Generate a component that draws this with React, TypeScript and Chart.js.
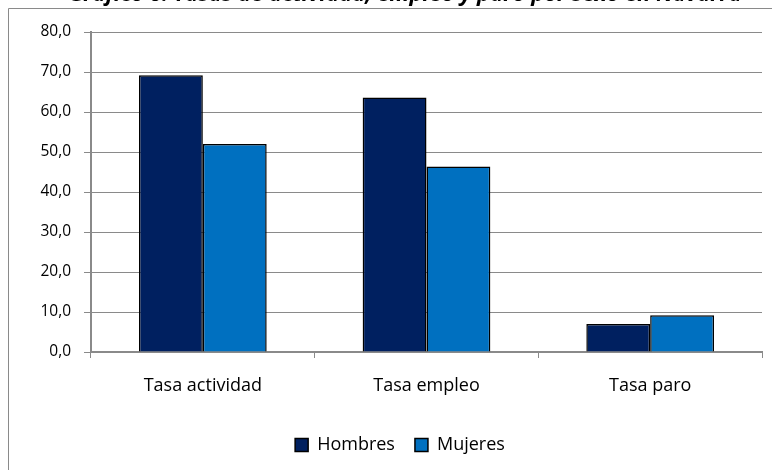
import React, { useEffect, useRef } from "react";
import { Chart, registerables } from "chart.js";

Chart.register(...registerables);

const categories = ["Tasa actividad", "Tasa empleo", "Tasa paro"];
const hombres = [69.2, 63.6, 7.0];
const mujeres = [52.0, 46.4, 9.2];
const seriesNames = ["Hombres", "Mujeres"];
const titleText = "Gráfico 6. Tasas de actividad, empleo y paro por sexo en Navarra";

const FONT = "'Open Sans', 'Noto Sans', sans-serif";

const framePlugin = {
  id: "frame",
  beforeDraw(chart: any) {
    const ctx = chart.ctx;
    ctx.save();
    ctx.fillStyle = "#ffffff";
    ctx.fillRect(0, 0, chart.width, chart.height);
    ctx.strokeStyle = "#8a8a8a";
    ctx.lineWidth = 1;
    ctx.beginPath();
    ctx.moveTo(8.5, chart.height + 2);
    ctx.lineTo(8.5, 8.5);
    ctx.lineTo(chart.width + 2, 8.5);
    ctx.stroke();
    ctx.fillStyle = "#000000";
    ctx.font = `italic bold 20px ${FONT}`;
    const w = ctx.measureText(titleText).width;
    const target = 686;
    const size = Math.max(10, Math.round((20 * target) / w));
    ctx.font = `italic bold ${size}px ${FONT}`;
    ctx.textAlign = "center";
    ctx.textBaseline = "alphabetic";
    ctx.fillText(titleText, 405, 1);
    ctx.restore();
  },
};

export default function App() {
  const ref = useRef<HTMLCanvasElement | null>(null);
  useEffect(() => {
    if (!ref.current) return;
    const chart = new Chart(ref.current, {
      type: "bar",
      data: {
        labels: categories,
        datasets: [
          {
            label: seriesNames[0],
            data: hombres,
            backgroundColor: "#002060",
            borderColor: "#000000",
            borderWidth: 1.5,
            categoryPercentage: 0.571,
            barPercentage: 1,
          },
          {
            label: seriesNames[1],
            data: mujeres,
            backgroundColor: "#0070C0",
            borderColor: "#000000",
            borderWidth: 1.5,
            categoryPercentage: 0.571,
            barPercentage: 1,
          },
        ],
      },
      options: {
        animation: false,
        responsive: false,
        maintainAspectRatio: false,
        layout: { padding: { top: 32, right: 10, left: 38, bottom: 6 } },
        plugins: {
          title: { display: false },
          tooltip: { enabled: false },
          legend: {
            position: "bottom",
            labels: {
              boxWidth: 13,
              boxHeight: 13,
              color: "#000000",
              font: { family: FONT, size: 18 },
              padding: 20,
            },
          },
        },
        scales: {
          x: {
            offset: true,
            grid: {
              display: true,
              offset: true,
              drawOnChartArea: false,
              drawTicks: true,
              tickLength: 6,
              color: "#8a8a8a",
            },
            border: { display: true, color: "#8a8a8a", width: 2 },
            ticks: {
              color: "#000000",
              font: { family: FONT, size: 18 },
              padding: 17,
            },
            afterFit(scale: any) {
              scale.height = 64;
            },
          },
          y: {
            min: 0,
            max: 80,
            ticks: {
              stepSize: 10,
              color: "#000000",
              font: { family: FONT, size: 15.5 },
              padding: 13,
              callback: (v: any) => Number(v).toFixed(1).replace(".", ","),
            },
            grid: {
              color: "#8a8a8a",
              lineWidth: 1,
              tickLength: 7,
            },
            border: { display: true, color: "#8a8a8a", width: 2 },
            afterFit(scale: any) {
              scale.width = 53;
            },
          },
        },
      },
      plugins: [framePlugin],
    });
    return () => chart.destroy();
  }, []);
  return (
    <div style={{ position: "fixed", left: 0, top: 0, width: 772, height: 470 }}>
      <canvas ref={ref} width={772} height={470} style={{ width: 772, height: 470, display: "block" }} />
    </div>
  );
}
